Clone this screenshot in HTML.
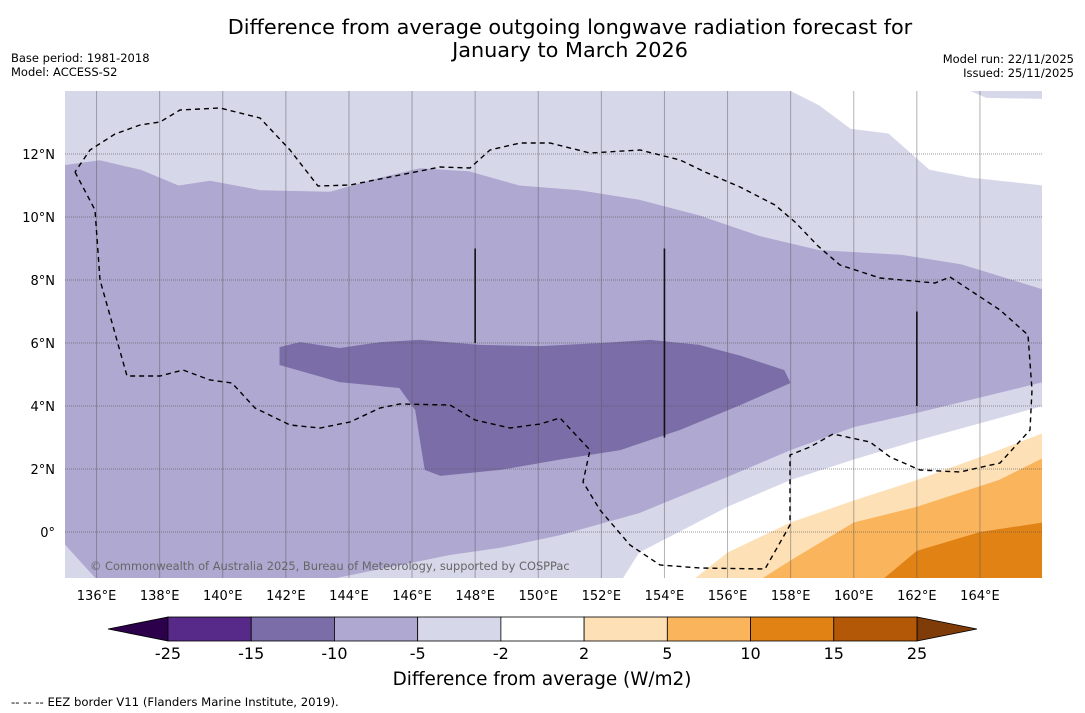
<!DOCTYPE html>
<html><head><meta charset="utf-8"><style>
body{margin:0;background:#fff;font-family:"Liberation Sans","DejaVu Sans",sans-serif;}
svg{display:block}
</style></head><body>
<svg id="chart" width="1085" height="713" viewBox="0 0 1085 713" font-family="DejaVu Sans, Liberation Sans, sans-serif">
<text x="570" y="34" font-size="20.8" text-anchor="middle">Difference from average outgoing longwave radiation forecast for</text>
<text x="570" y="57" font-size="20.8" text-anchor="middle">January to March 2026</text>
<text x="11" y="62" font-size="11.5">Base period: 1981-2018</text>
<text x="11" y="76" font-size="11.5">Model: ACCESS-S2</text>
<text x="1074" y="63" font-size="11.5" text-anchor="end">Model run: 22/11/2025</text>
<text x="1074" y="77" font-size="11.5" text-anchor="end">Issued: 25/11/2025</text>
<defs><clipPath id="mapclip"><rect x="65" y="91" width="977" height="487"/></clipPath></defs>
<g id="map" clip-path="url(#mapclip)"></g>
<g id="ticks"></g>
<g id="cbar"></g>
<text x="542" y="685" font-size="18.4" text-anchor="middle">Difference from average (W/m2)</text>
<text x="11" y="706" font-size="11.7">--  --  -- EEZ border V11 (Flanders Marine Institute, 2019).</text>
</svg>
<script>
const lonTicks=[136,138,140,142,144,146,148,150,152,154,156,158,160,162,164];
const latTicks=[0,2,4,6,8,10,12];
const cbarLevels=[-25,-15,-10,-5,-2,2,5,10,15,25];
const cbarColors=["#572a8a","#7b6ea8","#afa8d0","#d7d7ea","#ffffff","#fde0b5","#f9b45c","#e08214","#b35806"];
const bgColor="#d7d7ea";
const topRightWhite=[[158,14],[158.9,13.55],[159.9,12.8],[161.1,12.65],[162.4,11.5],[163.7,11.25],[166,11],[166,14]];
const topRightSliver=[[163.7,14],[164.2,13.78],[166,13.75],[166,14]];
const midPurple=[[135,11.65],[136.1,11.8],[137.4,11.5],[138.6,11],[139.6,11.15],[141.2,10.85],[143.4,10.8],[145,11.25],[146.25,11.55],[147.8,11.45],[149.4,11],[151.3,10.85],[153.2,10.55],[155.1,10.05],[157,9.4],[158.9,8.95],[161.5,8.8],[163.4,8.5],[166,7.7],[166,4.76],[162,3.78],[160,3.33],[158,2.6],[156,1.75],[153.2,0.6],[150.7,-0.1],[148.8,-0.5],[147.2,-0.73],[143.4,-1.5],[136,-1.5],[135,-0.4]];
const darkPurple=[[141.8,5.87],[142.45,6.03],[143.7,5.84],[145,6.03],[146.25,6.1],[148.15,5.94],[150.05,5.9],[152,6],[153.55,6.1],[155.1,5.94],[156.4,5.6],[157.8,5.14],[158,4.73],[156.4,4.03],[154.5,3.24],[152.6,2.6],[150.7,2.3],[148.8,1.97],[146.9,1.78],[146.4,1.97],[146.25,2.92],[146.1,3.87],[145.6,4.57],[143.7,4.76],[141.8,5.3]];
const whiteLow=[[166,4],[162,2.9],[160,2.3],[158,1.65],[156,0.8],[153.2,-0.65],[152.6,-1.6],[166,-1.6]];
const lightOrange=[[154.8,-1.6],[156,-0.65],[158,0.3],[160,1],[162,1.65],[164.6,2.6],[166,3.14],[166,-1.6]];
const orange=[[156.9,-1.6],[158,-0.9],[160,0.3],[162,0.8],[164.6,1.65],[166,2.35],[166,-1.6]];
const darkOrange=[[160.8,-1.6],[162,-0.6],[164,0],[166,0.3],[166,-1.6]];
const eezPx=[[75,172],[95,210],[100,280],[127,376],[160,376],[183,370],[210,380],[232,383],[255,408],[290,425],[320,428],[350,422],[380,408],[400,404],[450,405],[475,420],[510,428],[540,424],[560,418],[590,450],[583,482],[600,510],[630,545],[660,565],[700,568],[765,569],[790,525],[790,455],[810,447],[833,434],[870,442],[890,457],[920,470],[960,472],[1000,463],[1030,430],[1032,390],[1028,335],[1000,310],[950,277],[935,283],[880,278],[840,265],[818,246],[795,222],[775,205],[740,187],[705,172],[680,160],[640,150],[590,153],[550,143],[520,143],[490,150],[470,168],[440,167],[400,175],[350,185],[318,186],[290,150],[260,118],[220,108],[180,110],[160,122],[140,125],[115,134],[90,150],[75,172]];
const tracks=[[148,9,6],[154,9,3],[162,7,4]];
const NS="http://www.w3.org/2000/svg";
function X(lon){return 65+(lon-135)*31.55;}
function Y(lat){return 91+(14-lat)*31.5;}
function mk(parent,tag,attrs){const e=document.createElementNS(NS,tag);for(const k in attrs)e.setAttribute(k,attrs[k]);parent.appendChild(e);return e;}
const map=document.getElementById('map');
function poly(pts,fill,name){const e=mk(map,'polygon',{points:pts.map(p=>X(p[0]).toFixed(1)+','+Y(p[1]).toFixed(1)).join(' '),fill:fill});


return e;}
let bg=mk(map,'rect',{x:65,y:91,width:977,height:487,fill:bgColor});


poly(topRightWhite,'#ffffff','band-neutral-north');
poly(topRightSliver,bgColor,'band-minus5-north-sliver');
poly(midPurple,'#afa8d0','band-minus10-minus5');
poly(darkPurple,'#7b6ea8','band-minus15-minus10');
poly(whiteLow,'#ffffff','band-neutral-south');
poly(lightOrange,'#fde0b5','band-2-5');
poly(orange,'#f9b45c','band-5-10');
poly(darkOrange,'#e08214','band-10-15');
lonTicks.forEach(l=>{const e=mk(map,'line',{x1:X(l),x2:X(l),y1:91,y2:578,stroke:'#555',"stroke-opacity":0.45,"stroke-width":1});

});
latTicks.forEach(l=>{const e=mk(map,'line',{x1:65,x2:1042,y1:Y(l),y2:Y(l),stroke:'#555',"stroke-opacity":0.6,"stroke-width":1,"stroke-dasharray":"1,1"});

});
tracks.forEach(t=>{const e=mk(map,'line',{x1:X(t[0]),x2:X(t[0]),y1:Y(t[1]),y2:Y(t[2]),stroke:'#111',"stroke-width":1.6});

});
const eez=mk(map,'polyline',{points:eezPx.map(p=>p.join(',')).join(' '),fill:'none',stroke:'#000',"stroke-width":1.4,"stroke-dasharray":"5,4"});


const cp=mk(map,'text',{x:90,y:570,"font-size":11.4,fill:'#666'});
cp.textContent='© Commonwealth of Australia 2025, Bureau of Meteorology, supported by COSPPac';


const tk=document.getElementById('ticks');
lonTicks.forEach(l=>{const e=mk(tk,'text',{x:X(l),y:600,"font-size":13,"text-anchor":"middle"});e.textContent=l+'°E';

});
latTicks.forEach(l=>{const e=mk(tk,'text',{x:55,y:Y(l)+5,"font-size":13,"text-anchor":"end"});e.textContent=l===0?'0°':l+'°N';

});
const cb=document.getElementById('cbar');
const cx0=168,cx1=917,cy=617,ch=24,bw=(cx1-cx0)/cbarColors.length;
const la=mk(cb,'polygon',{points:`108,${cy+ch/2} ${cx0},${cy} ${cx0},${cy+ch}`,fill:'#2d004b',stroke:'#000',"stroke-width":0.8});


const ra=mk(cb,'polygon',{points:`977,${cy+ch/2} ${cx1},${cy} ${cx1},${cy+ch}`,fill:'#7f3b08',stroke:'#000',"stroke-width":0.8});


cbarColors.forEach((c,i)=>{const e=mk(cb,'rect',{x:cx0+i*bw,y:cy,width:bw,height:ch,fill:c,stroke:'#000',"stroke-width":0.8});

});
cbarLevels.forEach((v,i)=>{const e=mk(cb,'text',{x:cx0+i*bw,y:659,"font-size":16,"text-anchor":"middle"});e.textContent=v;

});
</script>
</body></html>
